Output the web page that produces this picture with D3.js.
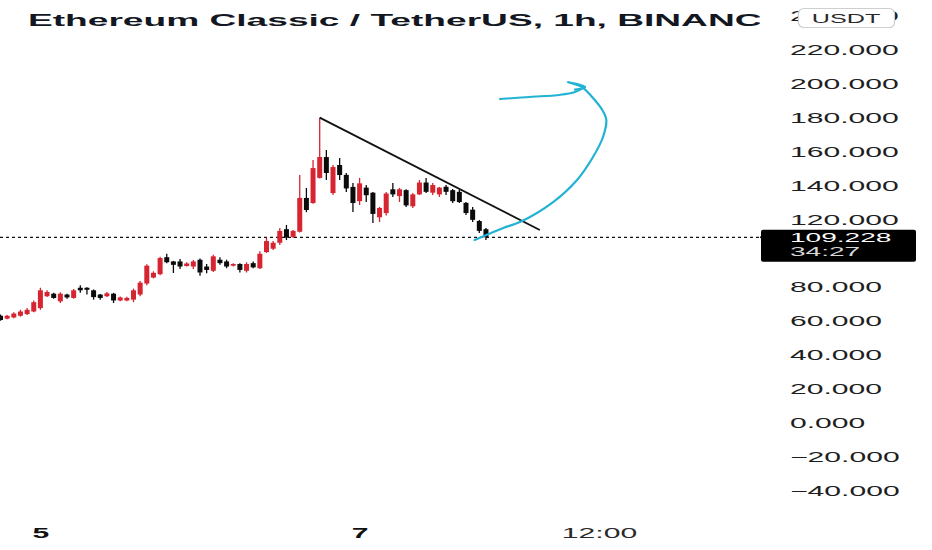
<!DOCTYPE html>
<html>
<head>
<meta charset="utf-8">
<script src="https://cdn.jsdelivr.net/npm/d3@7"></script>
<style>
  html, body { margin: 0; padding: 0; background: #fff; }
  svg { display: block; font-family: "Liberation Sans", Arial, sans-serif; }
</style>
</head>
<body>
<svg id="chart" width="932" height="550"></svg>
<script>
// ---- data ----
const title = "Ethereum Classic / TetherUS, 1h, BINANCE";
const currency = "USDT";
const opens = [63,61.3,62,63,64,65.5,67.5,74.5,76,71.5,
  75.5,73.5,79.5,79.5,78,75.5,74.5,76,72,72,
  72.5,75.5,82,85.5,87.5,97.5,95,95,92.3,92,
  96,92,89.5,96,95,92.5,93.5,89.5,94,91,
  100.5,102.5,106,114,109.5,112.5,132.4,129.4,144.2,156.5,
  135.3,151.8,146,138.9,130.5,138.5,135.5,121,123.5,137.5,
  133.5,137,127.5,134.5,141.5,135.5,134.5,139,137,136,
  129.5,125.5,118.8,114];
const highs = [63.7,63.5,65,66.5,67.5,72,79.5,78,76.5,76.8,
  76,78.7,81,79.8,78.5,75.8,77,76.5,74.3,74.2,
  79,83.5,93.3,89.2,97.8,99.5,95.3,96.5,94.5,95.8,
  96.8,93.5,99,97.5,96,94,94,94.5,95,101,
  109,107,114.7,116.5,113.5,145.9,138.3,154.8,179.7,160.7,
  151.8,155.9,147.1,141.2,144.2,140,135.9,127.1,135.9,141.2,
  138.3,137.5,135.3,143,144.2,141.2,138.9,140,137.6,137.1,
  130,127.1,119.4,114.7];
const lows = [60,61,61.5,62.5,63.5,65,66.5,74,73,70.5,
  73,73,76.5,75.5,72.5,72.5,74,70.5,71.6,71.5,
  71,74.5,81,85,86.8,94,88.2,90.5,92,90.5,
  86.5,88,88.8,93,91,92,88.5,88.5,91,90.5,
  100,101.7,104.7,107.6,108.8,112,124,129,143.8,143,
  134.1,143,135.9,124.1,128.2,130,117.6,118.2,122,133,
  130,127.1,126.5,134.1,135.3,134.1,133,134.1,129.4,129.4,
  122.3,118.2,111.7,107.6];
const closes = [60.5,63,64.3,65.5,66.5,71,78,77,73.5,76,
  73.8,78,78,78.3,74,73.5,76.2,72,73.8,73.5,
  78,82.5,92.5,88.3,97,94.5,93,92,93.8,95,
  88.5,90,98,94,92,93.5,90,93.5,91.5,99.5,
  107,106,113,109,113,132.4,125.3,150,156.5,147.1,
  150.6,145.9,138,129.4,141,134,123,126.5,135,134.5,
  137.5,128,134.5,141.5,136,140,138.5,136,130.5,130,
  123.5,119.5,113,109.228];
const lastPrice = 109.228;
const countdown = "34:27";
// 100.000 is hidden under the price label in the source, so it is not listed
const yTicks = [-40,-20,0,20,40,60,80,120,140,160,180,200,220,240];
const xTickIdx = [6, 54, 90];
const xTickLabels = ["5", "7", "12:00"];
const xTickBold = [true, true, false];
// drawings (bar index, price)
const trendLine = [[48, 179.7], [81.1, 113.5]];
const blueCurve = [[71.3,107.6],[75.6,114.7],[78.1,118.2],[83.1,130],[86.7,143],[89.1,156.5],
  [90.6,168.3],[91.1,178.3],[90.5,184.2],[89.1,191.3],[87.6,197.2],[86.7,199],[85.3,200.7],
  [87.9,197.8],[86.4,196.2]];
const blueStroke = [[75.1,190.7],[79.6,191.9],[84.1,193.1],[86.4,194.8],[87.9,197.8]];

// ---- layout ----
const W = 932, H = 550, plotRight = 760;
const STRETCH = 2.15;
const svg = d3.select("#chart");
svg.append("rect").attr("width", W).attr("height", H).attr("fill", "#fff");

const x = d3.scaleLinear().domain([0, 90]).range([0.5, 599]);
const y = d3.scaleLinear().domain([-40, 240]).range([490.6, 15.3]);

const candles = opens.map((o, i) => ({i, o, h: highs[i], l: lows[i], c: closes[i]}));
const RED = "#d62431", BLK = "#0b0b0b";

svg.append("defs").append("clipPath").attr("id", "plot")
  .append("rect").attr("x", 0).attr("y", 0).attr("width", plotRight).attr("height", H);

const plot = svg.append("g").attr("clip-path", "url(#plot)");

// title (drawn under axis panel)
plot.append("text")
  .attr("transform", `translate(28,26) scale(2.25,1)`)
  .attr("font-size", 16.5).attr("font-weight", "bold").attr("fill", "#131722")
  .text(title);

// current price dotted line
plot.append("line")
  .attr("x1", 0).attr("x2", plotRight)
  .attr("y1", y(lastPrice)).attr("y2", y(lastPrice))
  .attr("stroke", "#111").attr("stroke-width", 1.3).attr("stroke-dasharray", "3,3");

// candles
const cg = plot.append("g").selectAll("g").data(candles).join("g");
cg.append("line")
  .attr("x1", d => x(d.i)).attr("x2", d => x(d.i))
  .attr("y1", d => y(d.h)).attr("y2", d => y(d.l))
  .attr("stroke", d => d.c >= d.o ? RED : BLK).attr("stroke-width", 1.3);
cg.append("rect")
  .attr("x", d => x(d.i) - 2.5).attr("width", 5)
  .attr("y", d => y(Math.max(d.o, d.c)))
  .attr("height", d => Math.max(1.2, Math.abs(y(d.o) - y(d.c))))
  .attr("fill", d => d.c >= d.o ? RED : BLK);

// trend line
const line = d3.line().x(d => x(d[0])).y(d => y(d[1]));
plot.append("path").attr("d", line(trendLine))
  .attr("fill", "none").attr("stroke", "#111").attr("stroke-width", 1.8);

// blue hand drawing
const curve = d3.line().x(d => x(d[0])).y(d => y(d[1])).curve(d3.curveCatmullRom.alpha(0.5));
plot.append("path").attr("d", curve(blueCurve))
  .attr("fill", "none").attr("stroke", "#22b2d3").attr("stroke-width", 2.2).attr("stroke-linecap", "round").attr("stroke-linejoin", "round");
plot.append("path").attr("d", curve(blueStroke))
  .attr("fill", "none").attr("stroke", "#22b2d3").attr("stroke-width", 2).attr("stroke-linecap", "round");

// ---- price axis panel ----
svg.append("rect").attr("x", plotRight).attr("y", 0).attr("width", W - plotRight).attr("height", H).attr("fill", "#fff");

const yAxis = svg.append("g").attr("transform", `translate(${plotRight},0)`)
  .call(d3.axisRight(y).tickValues(yTicks).tickFormat(d3.format(".3f")).tickSize(0));
yAxis.select(".domain").remove();
yAxis.selectAll("text")
  .attr("x", 0).attr("dy", "0.36em")
  .attr("transform", `translate(30,0) scale(${STRETCH},1)`)
  .attr("font-size", 14).attr("fill", "#1e1e1e")
  .attr("font-family", "'Liberation Sans', Arial, sans-serif")
  .attr("text-anchor", "start");

// currency badge (covers the top tick label, as in the source)
const badge = svg.append("g");
badge.append("rect").attr("x", 798.5).attr("y", 8.5).attr("width", 96).attr("height", 19).attr("rx", 5)
  .attr("fill", "#fff").attr("stroke", "#cfcfcf").attr("stroke-width", 1.2);
badge.append("text").attr("transform", `translate(846,22.5) scale(2.1,1)`)
  .attr("text-anchor", "middle").attr("font-size", 12).attr("fill", "#2a2a2a").text(currency);

// price label
const py = y(lastPrice);
svg.append("line").attr("x1", plotRight).attr("x2", 773).attr("y1", py).attr("y2", py)
  .attr("stroke", "#111").attr("stroke-width", 1.5);
svg.append("rect").attr("x", plotRight + 1).attr("y", py - 7.5).attr("width", 155).attr("height", 32).attr("rx", 2)
  .attr("fill", "#000");
svg.append("text").attr("transform", `translate(790,${py + 4.8}) scale(2.3,1)`)
  .attr("font-size", 12.2).attr("fill", "#fff").text(d3.format(".3f")(lastPrice));
svg.append("text").attr("transform", `translate(790,${py + 19.2}) scale(2.3,1)`)
  .attr("font-size", 12.2).attr("fill", "#d6d6d6").text(countdown);

// ---- time axis ----
const xAxis = svg.append("g").attr("transform", `translate(0,527)`)
  .call(d3.axisBottom(x).tickValues(xTickIdx).tickFormat((d, k) => xTickLabels[k]).tickSize(0));
xAxis.select(".domain").remove();
xAxis.selectAll("text")
  .attr("y", 0).attr("dy", 0)
  .attr("transform", `translate(0,11) scale(${STRETCH},1)`)
  .attr("font-size", 14)
  .attr("font-family", "'Liberation Sans', Arial, sans-serif")
  .attr("font-weight", (d, k) => xTickBold[k] ? "bold" : "normal")
  .attr("fill", (d, k) => xTickBold[k] ? "#111" : "#2a2a2a");
</script>
</body>
</html>
